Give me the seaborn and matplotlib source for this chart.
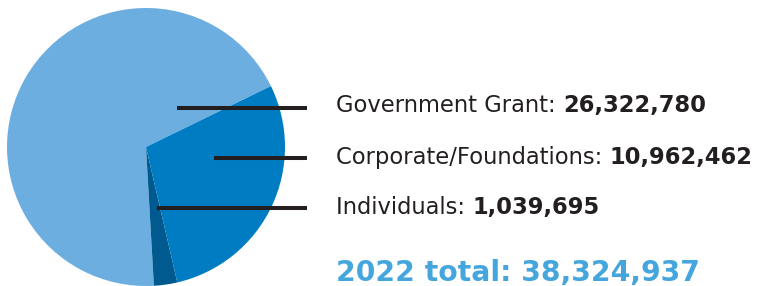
import numpy as np
import matplotlib
matplotlib.use("Agg")
import matplotlib.pyplot as plt
import seaborn as sns

# data
categories = ["Government Grant", "Corporate/Foundations", "Individuals"]
amounts = [26322780, 10962462, 1039695]
value_labels = ["26,322,780", "10,962,462", "1,039,695"]
colors = ["#6caee0", "#007cc2", "#005a8f"]
year = "2022"
total_label = "38,324,937"

# order of wedges going counter-clockwise round the pie
pie_order = [0, 2, 1]

W, H = 765, 286
sns.set_theme(style="white")
plt.rcParams["font.family"] = ["DejaVu Sans"]

fig = plt.figure(figsize=(W / 100, H / 100), dpi=100)
ax = fig.add_axes([0, 0, 1, 1])

ax.pie([amounts[i] for i in pie_order],
       colors=[colors[i] for i in pie_order],
       startangle=26, counterclock=True,
       center=(146, H - 147), radius=139,
       wedgeprops=dict(linewidth=0))
ax.set_xlim(0, W)
ax.set_ylim(0, H)
ax.set_aspect("equal")
ax.axis("off")

# leader lines and labels, positions in image pixels (y from the top)
line_starts = [177, 214, 157]
line_ys = [107.5, 157.5, 207.5]
baselines = [112, 164, 214]
text_x = 336

fig.canvas.draw()
renderer = fig.canvas.get_renderer()
inv = ax.transData.inverted()

for i, cat in enumerate(categories):
    ax.plot([line_starts[i], 307], [H - line_ys[i]] * 2, color="#231f20",
            lw=2.9, solid_capstyle="butt")
    t = ax.text(text_x, H - baselines[i], cat + ": ", fontsize=16.3,
                color="#231f20", va="baseline", ha="left")
    bb = t.get_window_extent(renderer)
    x_end = inv.transform((bb.x1, bb.y0))[0]
    ax.text(x_end, H - baselines[i], value_labels[i], fontsize=16.3,
            fontweight="bold", color="#231f20", va="baseline", ha="left")

ax.text(text_x, H - 281, f"{year} total: {total_label}", fontsize=20.3,
        fontweight="bold", color="#45a6dd", va="baseline", ha="left")

fig.savefig("out.png", dpi=100)
